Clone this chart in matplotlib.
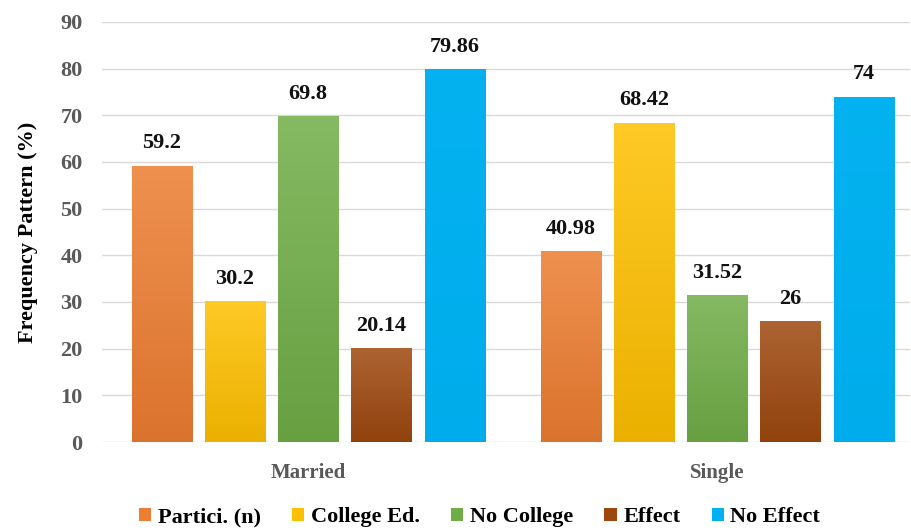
import matplotlib.pyplot as plt
import matplotlib.colors as mcolors
import numpy as np
from matplotlib.patches import Patch

groups = ["Married", "Single"]
series = ["Partici. (n)", "College Ed.", "No College", "Effect", "No Effect"]
values = [
    [59.2, 40.98],
    [30.2, 68.42],
    [69.8, 31.52],
    [20.14, 26],
    [79.86, 74],
]
labels = [
    ["59.2", "40.98"],
    ["30.2", "68.42"],
    ["69.8", "31.52"],
    ["20.14", "26"],
    ["79.86", "74"],
]
colors = ["#ED7D31", "#FFC000", "#70AD47", "#9E480E", "#00B0F0"]
yticks = [0, 10, 20, 30, 40, 50, 60, 70, 80, 90]

SERIF = ["Liberation Serif", "DejaVu Serif"]
plt.rcParams["font.family"] = SERIF


def shade(color, f):
    """f>0 lightens toward white, f<0 darkens toward black"""
    c = np.array(mcolors.to_rgb(color))
    if f >= 0:
        return c + (1 - c) * f
    return c * (1 + f)


fig = plt.figure(figsize=(9.12, 5.32), dpi=100)
ax = fig.add_axes([0.112, 0.169, 0.886, 0.79])

x = np.arange(len(groups))
width = 0.147
step = 0.179

for i, name in enumerate(series):
    pos = x + (i - 2) * step
    bars = ax.bar(pos, values[i], width, color=colors[i], zorder=2)
    top = shade(colors[i], 0.15)
    bot = shade(colors[i], -0.08)
    if i == 4:
        top = shade(colors[i], 0.02)
        bot = shade(colors[i], -0.02)
    grad = np.linspace(0, 1, 256)[:, None, None]
    img = top[None, None, :] * (1 - grad) + bot[None, None, :] * grad
    for b, lab in zip(bars, labels[i]):
        bx, by = b.get_x(), b.get_height()
        im = ax.imshow(img, extent=[bx, bx + width, 0, by], aspect="auto",
                       origin="upper", zorder=3, interpolation="bilinear")
        im.set_clip_path(b)
        ax.text(bx + width / 2, by + 2.6, lab, ha="center", va="bottom",
                fontsize=16, fontweight="bold", color="#111111")

ax.set_xlim(-0.504, 1.472)
ax.set_ylim(0, 90)
ax.set_yticks(yticks)
ax.set_xticks(x)
ax.set_xticklabels(groups, fontsize=15, color="#595959", fontweight="semibold")
ax.tick_params(axis="both", length=0)
ax.tick_params(axis="x", pad=15)
ax.tick_params(axis="y", pad=14)
for t in ax.get_yticklabels():
    t.set_fontsize(16)
    t.set_color("#595959")
    t.set_fontweight("bold")
ax.grid(axis="y", color="#D9D9D9", linewidth=1, zorder=0)
ax.set_axisbelow(True)
for s in ax.spines.values():
    s.set_visible(False)

ax.set_ylabel("Frequency Pattern (%)", fontsize=16, fontweight="bold")
ax.yaxis.set_label_coords(-0.080, 0.5)

handles = [Patch(facecolor=c, label=n) for c, n in zip(colors, series)]
leg = fig.legend(handles=handles, loc="center", bbox_to_anchor=(0.526, 0.028),
                 ncol=5, frameon=False, handlelength=0.55, handleheight=0.55,
                 handletextpad=0.3, columnspacing=1.4,
                 prop={"family": SERIF, "size": 16, "weight": "bold"})

fig.savefig("out.png", dpi=100)
